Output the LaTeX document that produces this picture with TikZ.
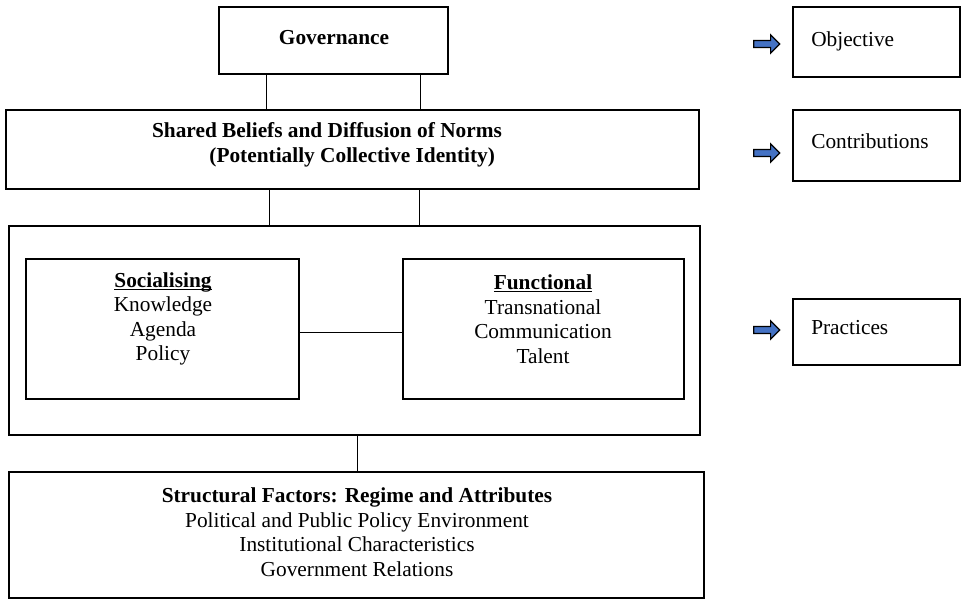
\documentclass[tikz,border=0pt]{standalone}
\usepackage{fontspec}
\setmainfont{Liberation Serif}
\usepackage{tikz}
\usetikzlibrary{calc}
\usetikzlibrary{positioning}
\usetikzlibrary{shapes.arrows}

\definecolor{arrowblue}{RGB}{68,114,196}
\newcommand{\boxfont}{\fontsize{16}{18.4}\selectfont\lineskiplimit=-20pt\relax}
\newsavebox{\headbox}
\newcommand{\headline}[1]{\sbox{\headbox}{#1}\rlap{\rule[-2.2pt]{\wd\headbox}{0.8pt}}\usebox{\headbox}}

\tikzset{
    box/.style={draw, line width=0.8pt, inner sep=0pt},
    txt/.style={align=center, inner sep=0pt, font=\boxfont},
    pointer/.style={single arrow, draw=black, fill=arrowblue, line width=0.9pt,
        inner sep=2.2pt, single arrow head extend=4.2pt, single arrow head indent=0pt,
        minimum height=19.5pt},
}

\begin{document}
\begin{tikzpicture}[x=0.75pt, y=-0.75pt]
            \useasboundingbox (0,0) rectangle (961,600);

            \node[box, minimum width=171.75pt, minimum height=50.25pt] (gov) at (333.5,40.5) {};
            \node[box, minimum width=519.75pt, minimum height=59.25pt] (beliefs) at (352.5,149.5) {};
            \node[box, minimum width=518.25pt, minimum height=156.75pt] (frame) at (354.5,330.5) {};
            \node[box, minimum width=204.75pt, minimum height=105pt] (soc) at (162.5,329) {};
            \node[box, minimum width=210.75pt, minimum height=105pt] (func) at (543.5,329) {};
            \node[box, minimum width=521.25pt, minimum height=94.5pt] (struct) at (356.5,535) {};

            \node[txt] (govtxt) at (334,38) {\textbf{Governance}};
            \node[txt, align=left] (beliefstxt) at (327,145)
                {\textbf{Shared Beliefs and Diffusion of Norms}\\
                 \hspace*{43pt}\textbf{(Potentially Collective Identity)}};
            \node[txt] (soctxt) at (163,319)
                {\headline{\textbf{Socialising}}\\Knowledge\\Agenda\\Policy};
            \node[txt] (functxt) at (543,319)
                {\headline{\textbf{Functional}}\\Transnational\\Communication\\Talent};
            \node[txt] (structtxt) at (357,532)
                {\textbf{Structural Factors: Regime and Attributes}\\
                 Political and Public Policy Environment\\
                 Institutional Characteristics\\
                 Government Relations};

            \draw[line width=0.8pt] ([xshift=-50pt]gov.south) -- ([xshift=-50pt]gov.south |- beliefs.north);
            \draw[line width=0.8pt] ([xshift=64.9pt]gov.south) -- ([xshift=64.9pt]gov.south |- beliefs.north);
            \draw[line width=0.8pt] ([xshift=-62.6pt]beliefs.south) -- ([xshift=-62.6pt]beliefs.south |- frame.north);
            \draw[line width=0.8pt] ([xshift=49.9pt]beliefs.south) -- ([xshift=49.9pt]beliefs.south |- frame.north);
            \draw[line width=0.8pt] ([yshift=-2.6pt]soc.east) -- ([yshift=-2.6pt]func.west);
            \draw[line width=0.8pt] ([xshift=1.9pt]frame.south) -- ([xshift=1.9pt]frame.south |- struct.north);

            % legend on the right
            \node[box, minimum width=125.25pt, minimum height=52.5pt] (obj) at (876.5,42) {};
            \node[box, minimum width=125.25pt, minimum height=53.25pt] (contrib) at (876.5,145.5) {};
            \node[box, minimum width=125.25pt, minimum height=49.5pt] (pract) at (876.5,332) {};

            \node[txt, anchor=west] (objtxt) at (811,41) {Objective};
            \node[txt, anchor=west] (contribtxt) at (811,141) {Contributions};
            \node[txt, anchor=west] (practtxt) at (811,328) {Practices};

            \node[pointer] (A1) at (765,44) {};
            \node[pointer] (A2) at (765,153) {};
            \node[pointer] (A3) at (765,330) {};
        \end{tikzpicture}
\end{document}
